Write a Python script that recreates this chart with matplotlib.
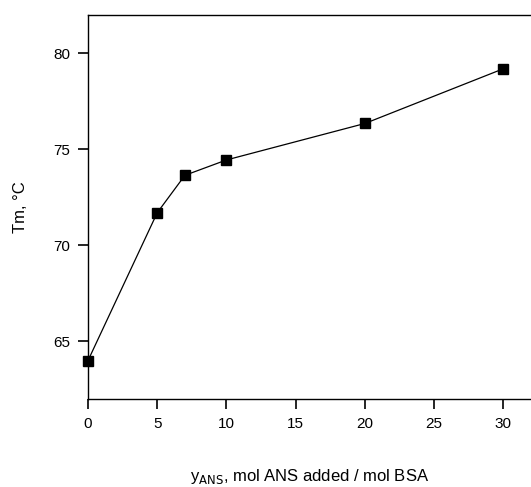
import matplotlib
matplotlib.use("Agg")
import matplotlib.pyplot as plt

plt.rcParams['font.family'] = ['Liberation Sans', 'DejaVu Sans']

y_ans = [0, 5, 7, 10, 20, 30]
tm = [64.0, 71.7, 73.65, 74.45, 76.35, 79.2]
xticks = [0, 5, 10, 15, 20, 25, 30]
yticks = [65, 70, 75, 80]

fig = plt.figure(figsize=(5.31, 4.87), dpi=100)
ax = fig.add_axes([88/531, 88/487, 1 - 88/531, 384/487])
ax.plot(y_ans, tm, color='black', lw=0.9, marker='s', ms=7, mfc='black', mec='black', clip_on=False)
ax.set_xlim(0, 32)
ax.set_ylim(62, 82)
ax.set_xticks(xticks)
ax.set_yticks(yticks)
ax.spines['right'].set_visible(False)
for s in ['left', 'bottom', 'top']:
    ax.spines[s].set_linewidth(1.0)
ax.tick_params(direction='out', length=7, width=1.2, labelsize=11, pad=6)
ax.set_xlabel(r'y$_{\mathrm{ANS}}$, mol ANS added / mol BSA', fontsize=12, labelpad=26)
ax.set_ylabel('Tm, °C', fontsize=12, labelpad=18)
fig.savefig('out.png', dpi=100)
